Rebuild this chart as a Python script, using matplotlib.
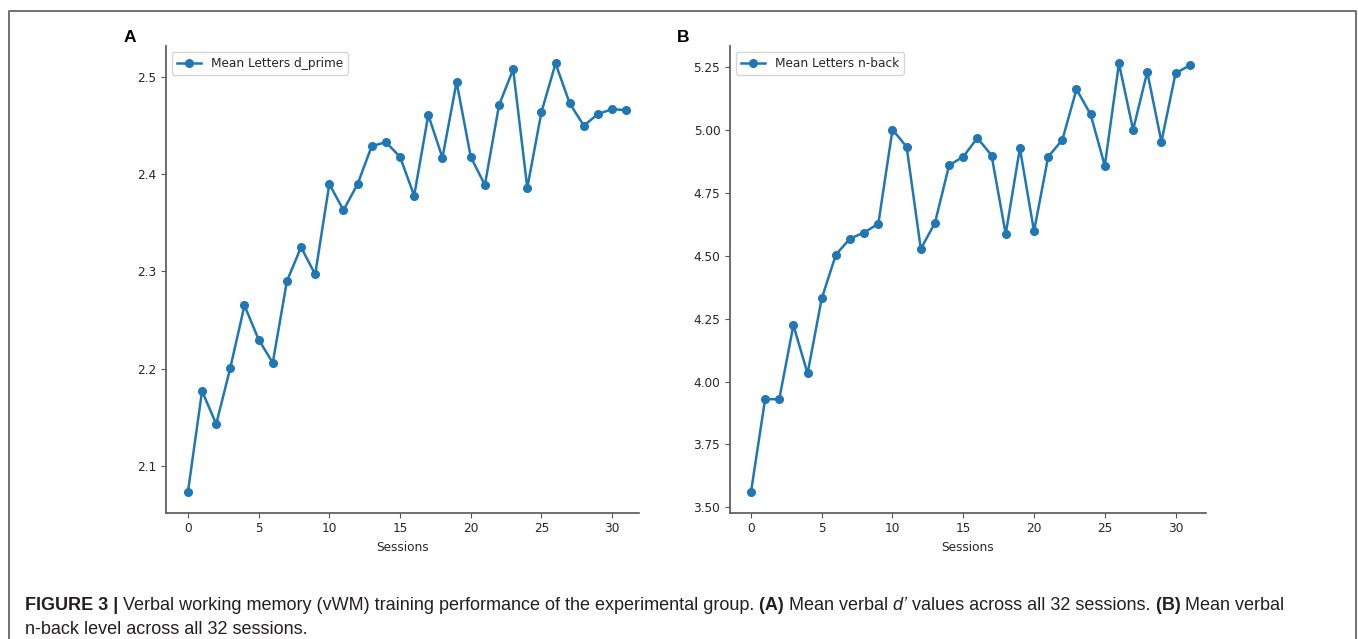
import matplotlib
matplotlib.use("Agg")
import matplotlib.pyplot as plt
from matplotlib.lines import Line2D

W, H = 1358, 639

# data
sessions = list(range(32))
d_prime = [2.073, 2.177, 2.143, 2.201, 2.265, 2.230, 2.206, 2.290, 2.325, 2.297,
           2.390, 2.363, 2.390, 2.429, 2.433, 2.418, 2.378, 2.461, 2.417, 2.495,
           2.418, 2.389, 2.471, 2.508, 2.386, 2.464, 2.514, 2.473, 2.450, 2.462,
           2.467, 2.466]
nback = [3.560, 3.930, 3.930, 4.224, 4.032, 4.330, 4.504, 4.568, 4.592, 4.627,
         5.001, 4.932, 4.527, 4.630, 4.859, 4.893, 4.968, 4.898, 4.586, 4.927,
         4.597, 4.893, 4.960, 5.161, 5.061, 4.857, 5.264, 5.000, 5.230, 4.952,
         5.225, 5.256]

labels = ["Mean Letters d_prime", "Mean Letters n-back"]
xticks = [0, 5, 10, 15, 20, 25, 30]
yticks_a = [2.1, 2.2, 2.3, 2.4, 2.5]
yticks_b = [3.50, 3.75, 4.00, 4.25, 4.50, 4.75, 5.00, 5.25]

plt.rcParams['font.family'] = 'DejaVu Sans'
fs = 8.7
blue = '#1f77b4'

fig = plt.figure(figsize=(W / 100, H / 100), dpi=100)
fig.patch.set_facecolor('white')

ax_a = fig.add_axes([166 / W, 1 - 512.7 / H, 473 / W, 466.7 / H])
ax_b = fig.add_axes([730 / W, 1 - 512.7 / H, 476 / W, 466.7 / H])

for ax, vals, lab, yt, xl, yl in [
        (ax_a, d_prime, labels[0], yticks_a, (-1.55, 31.9), (2.0518, 2.532)),
        (ax_b, nback, labels[1], yticks_b, (-1.48, 32.15), (3.479, 5.333))]:
    ax.plot(sessions, vals, marker='o', color=blue, lw=1.8, ms=5.5, label=lab)
    ax.set_xlim(*xl)
    ax.set_ylim(*yl)
    ax.set_xticks(xticks)
    ax.set_yticks(yt)
    if ax is ax_b:
        ax.set_yticklabels([f'{v:.2f}' for v in yt])
    ax.spines['top'].set_visible(False)
    ax.spines['right'].set_visible(False)
    for s in ['left', 'bottom']:
        ax.spines[s].set_color('#555555')
        ax.spines[s].set_linewidth(1.2)
    ax.tick_params(labelsize=fs, colors='#555555', labelcolor='#262626', length=3.5)
    ax.set_xlabel('Sessions', fontsize=fs, color='#262626')
    leg = ax.legend(loc='upper left', fontsize=fs, edgecolor='#cccccc')
    for t in leg.get_texts():
        t.set_color('#262626')

# panel letters
fig.text(130 / W, 1 - 37 / H, 'A', ha='center', va='center', fontsize=12.5,
         fontweight='bold', family='Liberation Sans')
fig.text(683 / W, 1 - 37 / H, 'B', ha='center', va='center', fontsize=12.5,
         fontweight='bold', family='Liberation Sans')

# frame around the figure
fig.add_artist(Line2D([8.5 / W, 8.5 / W, 1356 / W, 1356 / W],
                      [0, 1 - 11 / H, 1 - 11 / H, 0],
                      transform=fig.transFigure, color='#666666', lw=1.3))

# caption, chained pieces with mixed styles
cap_fs = 13
line1 = [("FIGURE 3 |", 'bold', 'normal'),
         (" Verbal working memory (vWM) training performance of the experimental group.", 'normal', 'normal'),
         (" (A)", 'bold', 'normal'),
         (" Mean verbal", 'normal', 'normal'),
         (" d\u2019", 'normal', 'italic'),
         (" values across all 32 sessions.", 'normal', 'normal'),
         (" (B)", 'bold', 'normal'),
         (" Mean verbal", 'normal', 'normal')]
line2 = [("n-back level across all 32 sessions.", 'normal', 'normal')]


def draw_caption(pieces, x, y):
    prev = None
    for txt, weight, style in pieces:
        if prev is None:
            prev = fig.text(x, y, txt, fontsize=cap_fs, fontweight=weight,
                            fontstyle=style, family='Liberation Sans',
                            va='baseline', ha='left', color='#231f20')
        else:
            prev = ax_a.annotate(txt, xy=(1, 0), xycoords=prev, va='bottom',
                                 ha='left', fontsize=cap_fs, fontweight=weight,
                                 fontstyle=style, family='Liberation Sans',
                                 color='#231f20', annotation_clip=False)


draw_caption(line1, 25 / W, 1 - 610.5 / H)
draw_caption(line2, 25 / W, 1 - 634.5 / H)

fig.savefig('out.png', dpi=100)
